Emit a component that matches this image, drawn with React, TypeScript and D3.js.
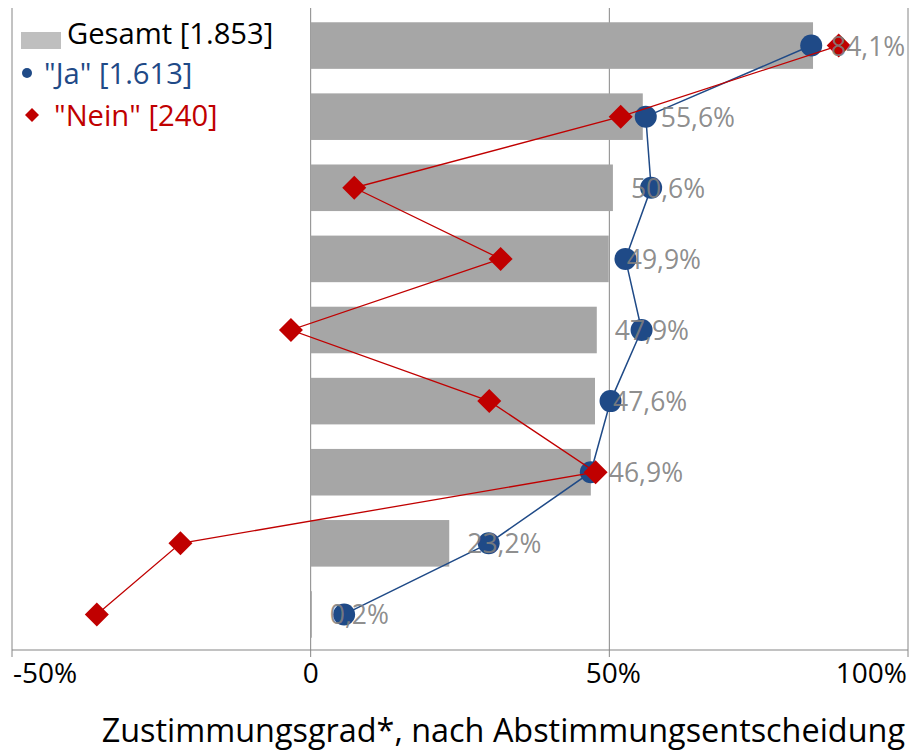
import React from "react";
import * as d3 from "d3";

const categories = ["1", "2", "3", "4", "5", "6", "7", "8", "9"];
const gesamt = [84.1, 55.6, 50.6, 49.9, 47.9, 47.6, 46.9, 23.2, 0.2];
const ja = [83.8, 56.1, 57.0, 52.7, 55.4, 50.2, 46.9, 29.8, 5.6];
const nein = [88.4, 51.9, 7.3, 31.8, -3.3, 29.9, 47.7, -21.8, -35.8];
const xTicks = [-50, 0, 50, 100];
const xTickLabels = ["-50%", "0", "50%", "100%"];
const legendLabels = ["Gesamt [1.853]", "\"Ja\" [1.613]", "\"Nein\" [240]"];
const axisTitle = "Zustimmungsgrad*, nach Abstimmungsentscheidung";

const W = 909;
const H = 751;
const FONT = "'Open Sans', sans-serif";
const BLUE = "#1f4a87";
const RED = "#c00000";
const BAR = "#a6a6a6";
const GRID = "#868686";

export default function App() {
  const x = d3.scaleLinear().domain([-50, 100]).range([12, 908]);
  const y = d3
    .scaleBand<string>()
    .domain(categories)
    .range([10, 650])
    .paddingInner(0.345)
    .paddingOuter(0.1725);
  const cy = (i: number) => (y(categories[i]) as number) + y.bandwidth() / 2;
  const line = d3
    .line<number>()
    .x((d) => x(d))
    .y((_, i) => cy(i));
  const diamond = (cx: number, cyv: number, r: number) =>
    `M${cx},${cyv - r}L${cx + r},${cyv}L${cx},${cyv + r}L${cx - r},${cyv}Z`;
  const fmt = (v: number) => v.toFixed(1).replace(".", ",") + "%";

  return (
    <svg
      width={W}
      height={H}
      style={{ position: "absolute", left: 0, top: 0, background: "#fff" }}
      fontFamily={FONT}
    >
      <rect width={W} height={H} fill="#fff" />
      {/* gridlines */}
      {xTicks.map((t) => (
        <line
          key={"g" + t}
          x1={x(t)}
          x2={x(t)}
          y1={8}
          y2={657}
          stroke={GRID}
          strokeWidth={1}
        />
      ))}
      {/* axis line */}
      <line x1={x(-50)} x2={x(100)} y1={650} y2={650} stroke={GRID} strokeWidth={1.2} />
      {/* bars */}
      {gesamt.map((v, i) => (
        <rect
          key={"b" + i}
          x={x(0)}
          y={y(categories[i])}
          width={x(v) - x(0)}
          height={y.bandwidth()}
          fill={BAR}
        />
      ))}
      {/* Ja series */}
      <path d={line(ja) || ""} fill="none" stroke={BLUE} strokeWidth={1.5} />
      {ja.map((v, i) => (
        <circle key={"j" + i} cx={x(v)} cy={cy(i)} r={11} fill={BLUE} />
      ))}
      {/* Nein series */}
      <path d={line(nein) || ""} fill="none" stroke={RED} strokeWidth={1.3} />
      {nein.map((v, i) => (
        <path key={"n" + i} d={diamond(x(v), cy(i), 12)} fill={RED} />
      ))}
      {/* labels */}
      {gesamt.map((v, i) => (
        <text
          key={"l" + i}
          x={x(v) + 18}
          y={cy(i) + 10}
          fontSize={26.5}
          fill="#7f7f7f"
          fillOpacity={0.9}
        >
          {fmt(v)}
        </text>
      ))}
      {/* tick labels */}
      {xTicks.map((t, i) => (
        <text
          key={"t" + t}
          x={i === 0 ? 13 : i === xTicks.length - 1 ? 907 : x(t) + (t === 50 ? 4 : 0)}
          y={683}
          fontSize={28}
          fill="#000"
          textAnchor={i === 0 ? "start" : i === xTicks.length - 1 ? "end" : "middle"}
        >
          {xTickLabels[i]}
        </text>
      ))}
      {/* axis title */}
      <text x={905} y={742} fontSize={32.4} textAnchor="end" fill="#000">
        {axisTitle}
      </text>
      {/* legend */}
      <rect x={21} y={32} width={40} height={17} fill="#bfbfbf" />
      <text x={67} y={44} fontSize={29.2} fill="#000">
        {legendLabels[0]}
      </text>
      <circle cx={27} cy={73} r={5} fill={BLUE} />
      <text x={44} y={84} fontSize={29.2} fill={BLUE}>
        {legendLabels[1]}
      </text>
      <path d={diamond(32, 115, 7)} fill={RED} />
      <text x={54} y={126} fontSize={29.2} fill={RED}>
        {legendLabels[2]}
      </text>
    </svg>
  );
}
